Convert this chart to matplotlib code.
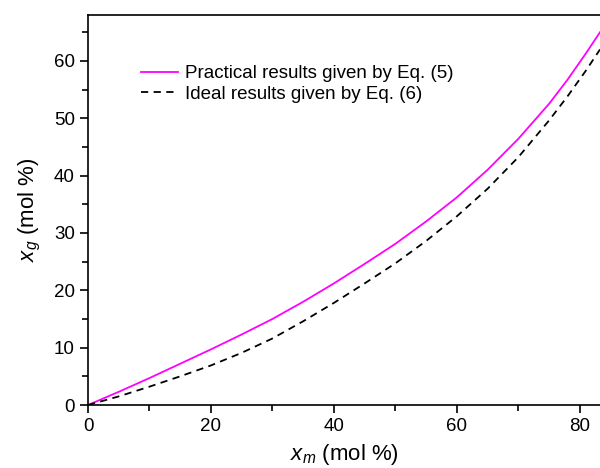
import matplotlib
matplotlib.use('Agg')
from matplotlib import pyplot as plt
from matplotlib.ticker import MultipleLocator

# valores
xm = [0, 5, 10, 15, 20, 25, 30, 35, 40, 45, 50, 55, 60, 65, 70, 75, 78, 81, 83.3]
pratico = [0, 2.3, 4.7, 7.2, 9.7, 12.3, 15.0, 18.0, 21.2, 24.6, 28.1, 32.0, 36.2, 41.0, 46.4, 52.5, 56.7, 61.3, 65.0]
ideal = [0, 1.5, 3.2, 5.0, 6.9, 9.1, 11.6, 14.6, 17.8, 21.2, 24.7, 28.6, 32.9, 37.7, 43.2, 49.6, 53.8, 58.3, 62.0]

plt.rcParams['font.family'] = 'Liberation Sans'
plt.rcParams['mathtext.fontset'] = 'custom'
plt.rcParams['mathtext.it'] = 'Liberation Sans:italic'
plt.rcParams['mathtext.rm'] = 'Liberation Sans'

fig = plt.figure(figsize=(6, 4.68), dpi=100)
ax = fig.add_axes([0.1467, 0.1346, 0.8533, 0.8333])

ax.plot(xm, pratico, color='#FF00FF', lw=1.3, label='Practical results given by Eq. (5)')
ax.plot(xm, ideal, color='black', lw=1.3, dashes=(4, 3), label='Ideal results given by Eq. (6)')

ax.set_xlim(0, 83.3)
ax.set_ylim(0, 68)
ax.xaxis.set_major_locator(MultipleLocator(20))
ax.xaxis.set_minor_locator(MultipleLocator(10))
ax.yaxis.set_major_locator(MultipleLocator(10))
ax.yaxis.set_minor_locator(MultipleLocator(5))
ax.tick_params(which='major', direction='out', length=6, width=1.2, labelsize=13.5)
ax.tick_params(which='minor', direction='out', length=4, width=1.2)
ax.spines['right'].set_visible(False)
for s in ['left', 'bottom', 'top']:
    ax.spines[s].set_linewidth(1.2)

ax.set_xlabel('$x_m$ (mol %)', fontsize=16, labelpad=5)
ax.set_ylabel('$x_g$ (mol %)', fontsize=16, labelpad=8)

ax.legend(loc='upper left', bbox_to_anchor=(0.07, 0.915), frameon=False, fontsize=13.5,
          handlelength=2.0, handletextpad=0.35, labelspacing=0.2)

fig.savefig('out.png', dpi=100)
